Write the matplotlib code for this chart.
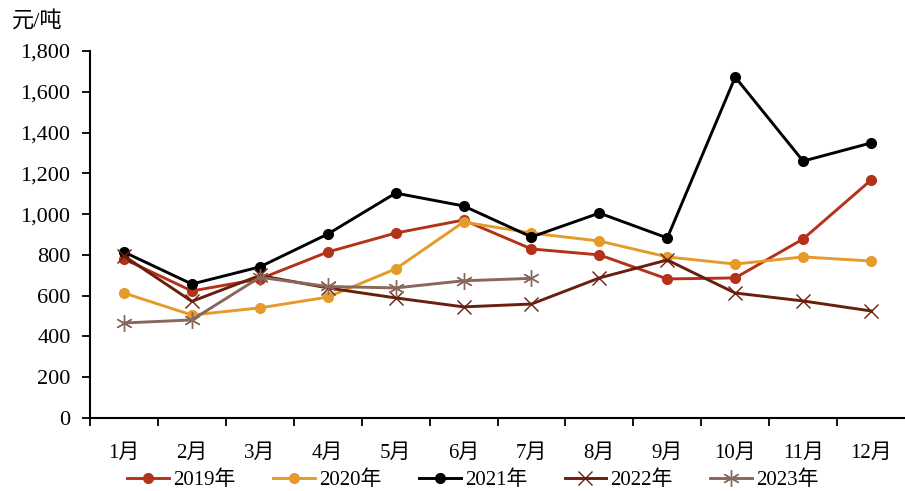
import matplotlib
matplotlib.use('Agg')
import matplotlib.pyplot as plt
from matplotlib.ticker import FuncFormatter, FixedLocator

plt.rcParams['font.family'] = ['Liberation Serif', 'Noto Sans CJK SC']

# data (元/吨)
months = ['1月', '2月', '3月', '4月', '5月', '6月', '7月', '8月', '9月', '10月', '11月', '12月']
y2019 = [780, 623, 682, 814, 907, 971, 829, 800, 682, 687, 878, 1167]
y2020 = [613, 505, 540, 593, 731, 961, 907, 868, 790, 755, 790, 770]
y2021 = [814, 657, 741, 902, 1103, 1040, 888, 1005, 883, 1672, 1260, 1349]
y2022 = [795, 572, 699, 638, 589, 545, 559, 687, 775, 613, 574, 525]
y2023 = [466, 481, 690, 645, 638, 673, 685]

fig = plt.figure(figsize=(9.05, 4.91), dpi=100)
ax = fig.add_axes([90 / 905, 1 - 418 / 491, 815 / 905, (418 - 51) / 491])

x = list(range(1, 13))
lw = 2.1
ax.plot(x, y2019, color='#B2331A', lw=lw, marker='o', ms=7, label='2019年')
ax.plot(x, y2020, color='#E59B2A', lw=lw, marker='o', ms=7, label='2020年')
ax.plot(x, y2021, color='#000000', lw=lw, marker='o', ms=7, label='2021年')
ax.plot(x, y2022, color='#6A1E0C', lw=lw, marker='x', ms=10, mew=1.0, label='2022年')
ax.plot(x[:len(y2023)], y2023, color='#8A675C', lw=lw, marker=(6, 2, 0), ms=12, mew=1.0, label='2023年')

ax.set_xlim(0.5, 12.5)
ax.set_ylim(0, 1800)
ax.set_yticks(range(0, 1801, 200))
ax.yaxis.set_major_formatter(FuncFormatter(lambda v, p: f'{v:,.0f}'))
ax.set_xticks(x)
ax.set_xticklabels(months)
ax.xaxis.set_minor_locator(FixedLocator([i + 0.5 for i in range(0, 12)]))
ax.tick_params(axis='x', which='major', length=0, pad=19, labelsize=15)
ax.tick_params(axis='x', which='minor', length=6, width=1.3, direction='out')
ax.tick_params(axis='y', length=6, width=1.3, direction='out', labelsize=16, pad=8)

for s in ['top', 'right']:
    ax.spines[s].set_visible(False)
for s in ['left', 'bottom']:
    ax.spines[s].set_linewidth(1.5)

fig.text(12 / 905, 1 - 21 / 491, '元/吨', fontsize=16, va='center', ha='left')

fig.legend(loc='center', bbox_to_anchor=(473 / 905, 1 - 480 / 491), ncol=5, frameon=False,
           fontsize=15, handlelength=2.0, handletextpad=0.2, columnspacing=1.8,
           borderaxespad=0, borderpad=0)

fig.savefig('out.png', dpi=100)
